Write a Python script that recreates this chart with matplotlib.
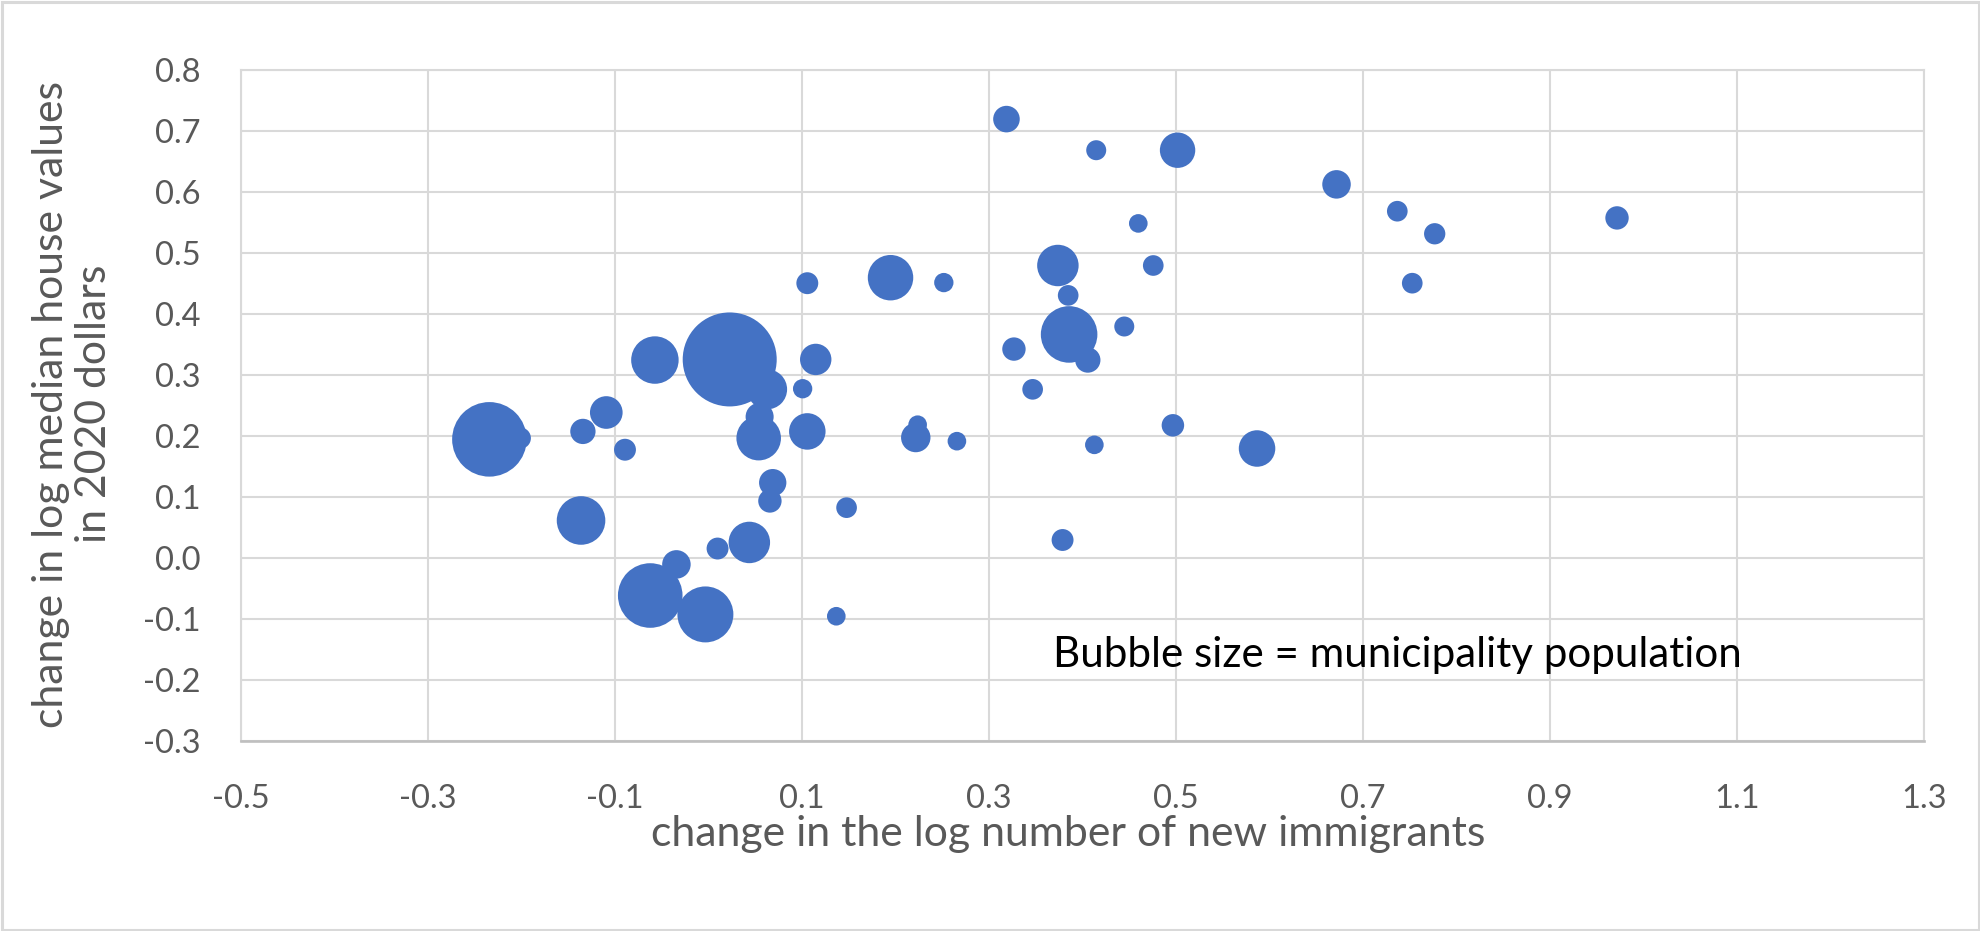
import matplotlib
matplotlib.use("Agg")
import matplotlib.pyplot as plt
import numpy as np
from matplotlib.patches import Rectangle

# ---- data ----
immigrant_change = [
    -0.234, -0.201, -0.134, -0.109, -0.089, -0.136, -0.057, 0.023, 0.063, 0.055,
    0.054, 0.106, 0.195, 0.115, 0.101, 0.106, 0.069, 0.066, 0.148, 0.044,
    0.010, -0.034, -0.062, -0.003, 0.137, 0.319, 0.415, 0.502, 0.672, 0.460,
    0.374, 0.476, 0.252, 0.385, 0.386, 0.406, 0.327, 0.445, 0.347, 0.222,
    0.224, 0.266, 0.413, 0.497, 0.587, 0.379, 0.737, 0.777, 0.753, 0.972,
]
house_value_change = [
    0.195, 0.197, 0.208, 0.239, 0.178, 0.062, 0.325, 0.326, 0.277, 0.232,
    0.197, 0.451, 0.460, 0.326, 0.278, 0.208, 0.124, 0.094, 0.083, 0.026,
    0.016, -0.010, -0.061, -0.092, -0.095, 0.720, 0.669, 0.669, 0.613, 0.549,
    0.480, 0.480, 0.452, 0.431, 0.367, 0.325, 0.343, 0.380, 0.277, 0.198,
    0.219, 0.192, 0.186, 0.218, 0.180, 0.030, 0.569, 0.532, 0.451, 0.558,
]
population_k = [
    417, 34, 48, 80, 36, 177, 169, 663, 120, 59,
    149, 36, 155, 74, 28, 100, 56, 41, 32, 129,
    36, 61, 313, 235, 26, 53, 30, 94, 61, 26,
    129, 32, 28, 32, 240, 48, 41, 30, 32, 65,
    26, 26, 26, 38, 100, 36, 32, 34, 32, 41,
]

x_ticks = [-0.5, -0.3, -0.1, 0.1, 0.3, 0.5, 0.7, 0.9, 1.1, 1.3]
x_tick_labels = ["-0.5", "-0.3", "-0.1", "0.1", "0.3", "0.5", "0.7", "0.9", "1.1", "1.3"]
y_ticks = [-0.3, -0.2, -0.1, 0.0, 0.1, 0.2, 0.3, 0.4, 0.5, 0.6, 0.7, 0.8]
y_tick_labels = ["-0.3", "-0.2", "-0.1", "0.0", "0.1", "0.2", "0.3", "0.4", "0.5", "0.6", "0.7", "0.8"]

x_title = "change in the log number of new immigrants"
y_title = "change in log median house values\nin 2020 dollars"
note = "Bubble size = municipality population"

# ---- figure ----
W, H, DPI = 1980, 931, 100
plt.rcParams['font.family'] = ['Lato', 'DejaVu Sans']
fig = plt.figure(figsize=(W / DPI, H / DPI), dpi=DPI)
fig.patch.set_facecolor('white')

left_px, right_px, top_px, bottom_px = 240.7, 1923.7, 70.3, 741.3
ax = fig.add_axes([left_px / W, 1 - bottom_px / H,
                   (right_px - left_px) / W, (bottom_px - top_px) / H])
ax.set_xlim(-0.5, 1.3)
ax.set_ylim(-0.3, 0.8)
ax.set_xticks(x_ticks, x_tick_labels)
ax.set_yticks(y_ticks, y_tick_labels)
ax.grid(True, color='#d9d9d9', linewidth=1.5)
ax.set_axisbelow(True)
for s in ['top', 'right', 'left']:
    ax.spines[s].set_color('#d9d9d9')
    ax.spines[s].set_linewidth(1.5)
ax.spines['bottom'].set_color('#bfbfbf')
ax.spines['bottom'].set_linewidth(1.9)
ax.tick_params(axis='both', length=0, labelsize=23.5, labelcolor='#595959')
ax.tick_params(axis='y', pad=29)
ax.tick_params(axis='x', pad=31)

# bubbles: area proportional to population, largest ~47 px radius
pop = np.array(population_k, dtype=float)
r_px = 47.0 * np.sqrt(pop / pop.max())
sizes = (2 * r_px * 72.0 / DPI) ** 2
ax.scatter(immigrant_change, house_value_change, s=sizes, color='#4472C4',
           edgecolors='none', zorder=3)

# titles
xt = fig.text(1068 / W, 1 - 846 / H, x_title, ha='center', va='baseline',
              fontsize=30, color='#595959')
yt = fig.text(72.5 / W, 1 - 404 / H, y_title, ha='center', va='center', rotation=90,
              multialignment='center', fontsize=30, color='#595959', linespacing=1.15)
nt = fig.text(1053 / W, 1 - 667 / H, note, ha='left', va='baseline',
              fontsize=28, color='black')

# fit text widths to the reference
fig.canvas.draw()
r = fig.canvas.get_renderer()
w = xt.get_window_extent(r).width
fs = xt.get_fontsize() * 834.0 / w
xt.set_fontsize(fs)
yt.set_fontsize(fs)
w = nt.get_window_extent(r).width
nt.set_fontsize(nt.get_fontsize() * 689.0 / w)

# outer chart border
fig.patches.append(Rectangle((1.5 / W, 1.5 / H), 1 - 3 / W, 1 - 3 / H,
                             transform=fig.transFigure, fill=False,
                             edgecolor='#d9d9d9', linewidth=2.2))

fig.savefig('out.png', dpi=DPI, facecolor='white')
